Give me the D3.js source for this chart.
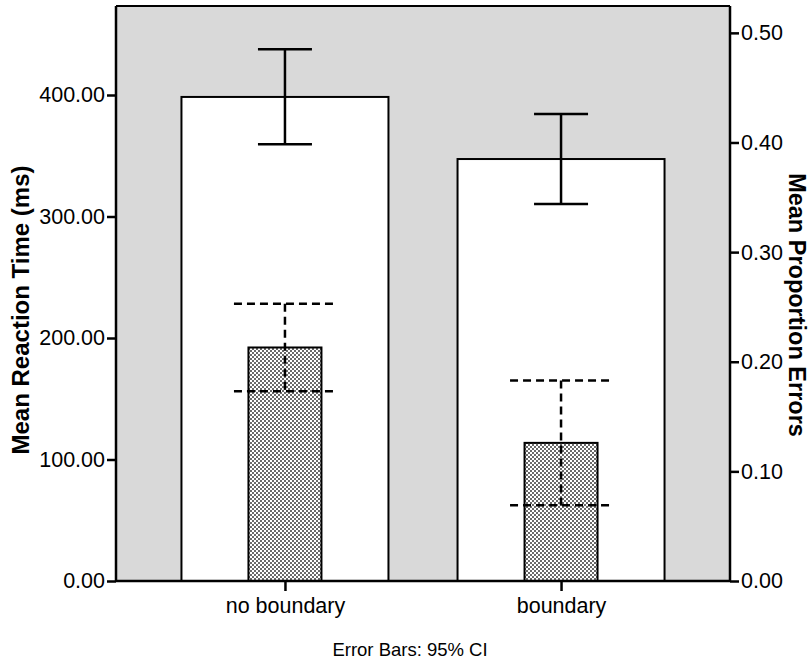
<!DOCTYPE html>
<html><head><meta charset="utf-8">
<script src="https://cdn.jsdelivr.net/npm/d3@7"></script>
<style>body{margin:0;background:#fff}svg{display:block}text{font-family:"Liberation Sans",Arial,sans-serif}</style>
</head><body><svg id="c" width="812" height="664"></svg>
<script>
const categories = ["no boundary", "boundary"];
const rtMean = [398.4, 347.3];
const rtLow = [359.5, 310.3];
const rtHigh = [437.6, 384.4];
const errMean = [0.213, 0.126];
const errLow = [0.173, 0.069];
const errHigh = [0.253, 0.183];
const leftTicks = [0, 100, 200, 300, 400];
const rightTicks = [0, 0.1, 0.2, 0.3, 0.4, 0.5];

const svg = d3.select("#c");
const L = 116, R = 730, T = 6, B = 581;
const x = d3.scalePoint().domain(categories).range([L, R]).padding(0.612);
const yL = d3.scaleLinear().domain([0, 473.25]).range([B, T]);
const yR = d3.scaleLinear().domain([0, 0.5245]).range([B, T]);

const defs = svg.append("defs");
const pat = defs.append("pattern").attr("id", "dots").attr("patternUnits", "userSpaceOnUse").attr("width", 4).attr("height", 4);
pat.append("rect").attr("width", 4).attr("height", 4).attr("fill", "#fff");
pat.append("circle").attr("cx", 1).attr("cy", 1).attr("r", 0.95).attr("fill", "#2a2a2a");
pat.append("circle").attr("cx", 3).attr("cy", 3).attr("r", 0.95).attr("fill", "#2a2a2a");

svg.append("rect").attr("x", L).attr("y", T).attr("width", R - L).attr("height", B - T).attr("fill", "#d9d9d9");

const wW = 207, hW = 73;
svg.selectAll(".wbar").data(categories).join("rect")
  .attr("x", d => x(d) - wW / 2).attr("y", (d, i) => yL(rtMean[i]))
  .attr("width", wW).attr("height", (d, i) => B - yL(rtMean[i]))
  .attr("fill", "#fff").attr("stroke", "#000").attr("stroke-width", 2);

svg.selectAll(".hbar").data(categories).join("rect")
  .attr("x", d => x(d) - hW / 2).attr("y", (d, i) => yR(errMean[i]))
  .attr("width", hW).attr("height", (d, i) => B - yR(errMean[i]))
  .attr("fill", "url(#dots)").attr("stroke", "#000").attr("stroke-width", 2);

// RT error bars (solid)
categories.forEach((c, i) => {
  const g = svg.append("g").attr("stroke", "#000").attr("stroke-width", 2.5).attr("fill", "none");
  const cx = x(c), cw = 27;
  g.append("line").attr("x1", cx).attr("x2", cx).attr("y1", yL(rtLow[i])).attr("y2", yL(rtHigh[i]));
  g.append("line").attr("x1", cx - cw).attr("x2", cx + cw).attr("y1", yL(rtLow[i])).attr("y2", yL(rtLow[i]));
  g.append("line").attr("x1", cx - cw).attr("x2", cx + cw).attr("y1", yL(rtHigh[i])).attr("y2", yL(rtHigh[i]));
});
// Error proportion error bars (dashed)
categories.forEach((c, i) => {
  const g = svg.append("g").attr("stroke", "#000").attr("stroke-width", 2.5).attr("fill", "none").attr("stroke-dasharray", "8,5");
  const cx = x(c), cw = 51;
  g.append("line").attr("x1", cx).attr("x2", cx).attr("y1", yR(errHigh[i])).attr("y2", yR(errLow[i]));
  g.append("line").attr("x1", cx - cw).attr("x2", cx + cw).attr("y1", yR(errLow[i])).attr("y2", yR(errLow[i]));
  g.append("line").attr("x1", cx - cw).attr("x2", cx + cw).attr("y1", yR(errHigh[i])).attr("y2", yR(errHigh[i]));
});

// frame top
svg.append("line").attr("x1", L).attr("x2", R).attr("y1", T).attr("y2", T).attr("stroke", "#000").attr("stroke-width", 2);

const fs = "21.5px";
const axL = svg.append("g").attr("transform", `translate(${L},0)`)
  .call(d3.axisLeft(yL).tickValues(leftTicks).tickFormat(d3.format(".2f")).tickSize(9).tickPadding(2));
const axR = svg.append("g").attr("transform", `translate(${R},0)`)
  .call(d3.axisRight(yR).tickValues(rightTicks).tickFormat(d3.format(".2f")).tickSize(9).tickPadding(2));
const axB = svg.append("g").attr("transform", `translate(0,${B})`)
  .call(d3.axisBottom(x).tickSize(10).tickPadding(7));
[axL, axR, axB].forEach(a => {
  a.selectAll("path.domain").attr("stroke", "#000").attr("stroke-width", 2.5);
  a.selectAll(".tick line").attr("stroke", "#000").attr("stroke-width", 2.5);
  a.selectAll("text").attr("fill", "#000").style("font-size", fs).style("font-family", '"Liberation Sans", Arial, sans-serif');
});
axB.select("path.domain").attr("d", `M${L},0H${R}`);
axL.select("path.domain").attr("d", `M0,${B}V${T}`);
axR.select("path.domain").attr("d", `M0,${B}V${T}`);

svg.append("text").attr("transform", "translate(29,310) rotate(-90)").attr("text-anchor", "middle")
  .style("font-size", "24px").style("font-weight", "bold").text("Mean Reaction Time (ms)");
svg.append("text").attr("transform", "translate(789,305) rotate(90)").attr("text-anchor", "middle")
  .style("font-size", "23.5px").style("font-weight", "bold").text("Mean Proportion Errors");
svg.append("text").attr("x", 410).attr("y", 656).attr("text-anchor", "middle")
  .style("font-size", "18.5px").text("Error Bars: 95% CI");
</script></body></html>
